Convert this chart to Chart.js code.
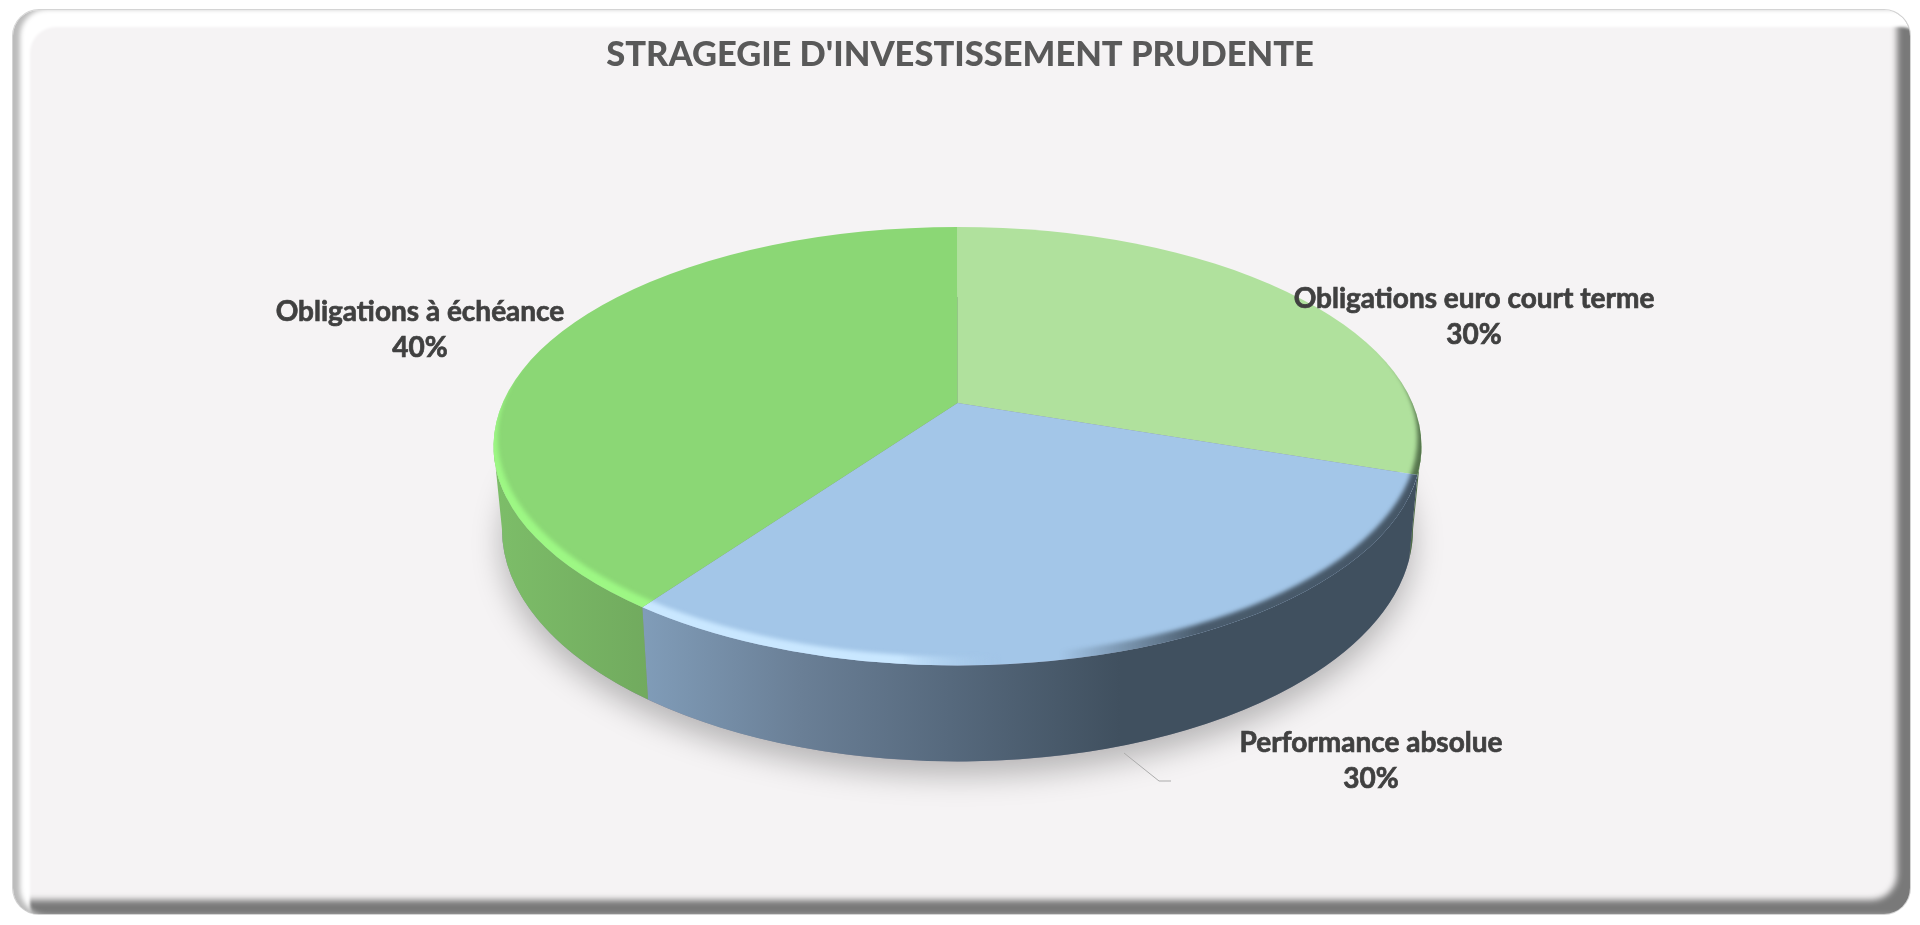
<!DOCTYPE html>
<html>
<head>
<meta charset="utf-8">
<title>Stragegie</title>
<script src="https://cdn.jsdelivr.net/npm/chart.js@4"></script>
<style>
  html, body { margin: 0; padding: 0; background: #fff; overflow: hidden; }
  #cadre {
    position: absolute; left: 13px; top: 10px; width: 1897px; height: 904px;
    border-radius: 26px; background: #f5f3f4;
    box-shadow: 0 0 0 1px #d4d4d4,
      inset 8px 0 5px -1px #bcbcbc,
      inset 17px 17px 3px #fff,
      inset -13px -14px 6px #797979;
  }
  canvas { position: absolute; left: 0; top: 0; }
</style>
</head>
<body>
<div id="cadre"></div>
<canvas id="grafico" width="1920" height="925"></canvas>
<script>
const titre = "STRAGEGIE D'INVESTISSEMENT PRUDENTE";
const categories = ["Obligations euro court terme", "Performance absolue", "Obligations à échéance"];
const valeurs = [30, 30, 40];
const couleurs = ["#b0e19d", "#a3c6e8", "#8bd775"];

// look of the 3D disc, the pie is drawn as a tilted disc seen in perspective
const disque = { dx: -2.5, sx: 1.2513, sy: 0.5914, apex: -0.197, vue: -0.185, bas: { dy: 83, sx: 1.2285, sy: 0.6263 } };
const parois = [
  [[1300, "#4f6d47"], [1430, "#4f6d47"]],
  [[645, "#809cb8"], [800, "#6a7f96"], [950, "#56697d"], [1120, "#40505f"], [1420, "#40505f"]],
  [[490, "#7dbe69"], [650, "#71aa5e"]]
];
const reflets = ["rgba(176,225,157,0)", "#c9e7ff", "#9df784"];
const positionsTexte = [[1474, 299], [1371, 743], [420, 312]];

function fondu(ctx, x0, x1, stops) {
  const g = ctx.createLinearGradient(x0, 0, x1, 0);
  stops.forEach(s => g.addColorStop((s[0] - x0) / (x1 - x0), s[1]));
  return g;
}

// angle on the circle -> angle on the ellipse, the centre of the circle lands near the apex
function projeter(a) {
  const u = Math.cos(a), v = Math.sin(a), k = disque.vue;
  const d = 1 + k * v;
  return Math.atan2((v + k) / d, u * Math.sqrt(1 - k * k) / d);
}

class Arc3D extends Chart.ArcElement {
  static id = "arc3d";
  draw(ctx) {
    const i = this.$context.dataIndex;
    const r = this.outerRadius, cx = this.x + disque.dx, cy = this.y;
    const rx = r * disque.sx, ry = r * disque.sy;
    const bx = r * disque.bas.sx, by = r * disque.bas.sy, bcy = cy + disque.bas.dy;
    let p1 = projeter(this.startAngle), p2 = projeter(this.endAngle);
    while (p2 <= p1) p2 += Math.PI * 2;

    // front wall
    const w1 = Math.max(p1, 0), w2 = Math.min(p2, Math.PI);
    ctx.save();
    if (w2 > w1) {
      ctx.beginPath();
      ctx.ellipse(cx, cy, rx, ry, 0, w1, w2);
      ctx.ellipse(cx, bcy, bx, by, 0, w2, w1, true);
      ctx.closePath();
      const st = parois[i];
      ctx.fillStyle = fondu(ctx, st[0][0], st[st.length - 1][0], st);
      ctx.fill();
    }

    // top of the slice
    const apexY = cy + disque.apex * ry;
    ctx.beginPath();
    ctx.moveTo(cx, apexY);
    ctx.ellipse(cx, cy, rx, ry, 0, p1, p2);
    ctx.closePath();
    ctx.fillStyle = this.options.backgroundColor;
    ctx.fill();

    // bevel, a crescent along the front rim, bright on the left and dark on the right
    ctx.clip();
    const sombre = i === 1 ? "64,80,95" : "79,109,71";
    ctx.fillStyle = fondu(ctx, 480, 1430, [
      [480, reflets[i]], [900, reflets[i]], [1000, "rgba(163,198,232,0)"],
      [1060, "rgba(" + sombre + ",0)"], [1200, "rgba(" + sombre + ",0.9)"], [1430, "rgba(" + sombre + ",0.95)"]
    ]);
    ctx.filter = "blur(2px)";
    ctx.beginPath();
    ctx.ellipse(cx, cy, rx + 6, ry + 6, 0, 0, Math.PI * 2);
    ctx.ellipse(cx, cy - 9, rx - 4, ry, 0, 0, Math.PI * 2);
    ctx.fill("evenodd");
    ctx.restore();
  }
}

class Pie3D extends Chart.PieController {
  static id = "pie3d";
  static defaults = { dataElementType: "arc3d" };
}

Chart.register(Arc3D, Pie3D);

const ombre = {
  id: "ombre",
  beforeDatasetsDraw(chart) {
    const a = chart.getDatasetMeta(0).data[0];
    const c = chart.ctx, r = a.outerRadius;
    c.save();
    c.shadowColor = "rgba(0,0,0,0.26)";
    c.shadowBlur = 30;
    c.shadowOffsetY = 14;
    c.fillStyle = "#889";
    c.beginPath();
    c.ellipse(a.x + disque.dx, a.y + disque.bas.dy, r * disque.bas.sx, r * disque.bas.sy, 0, 0, Math.PI * 2);
    c.fill();
    c.restore();
  }
};

const etiquettes = {
  id: "etiquettes",
  afterDraw(chart) {
    const c = chart.ctx;
    c.save();
    c.strokeStyle = "#ababab";
    c.lineWidth = 1;
    c.beginPath();
    c.moveTo(1124, 753);
    c.lineTo(1159, 781);
    c.lineTo(1171, 781);
    c.stroke();
    c.fillStyle = "#404040";
    c.strokeStyle = "#404040";
    c.lineWidth = 0.7;
    c.font = "bold 28px Lato";
    c.textAlign = "center";
    c.textBaseline = "middle";
    categories.forEach((nom, i) => {
      const [x, y] = positionsTexte[i];
      [[nom, y], [valeurs[i] + "%", y + 36]].forEach(l => {
        c.fillText(l[0], x, l[1]);
        c.strokeText(l[0], x, l[1]);
      });
    });
    c.restore();
  }
};

new Chart(document.getElementById("grafico"), {
  type: "pie3d",
  data: {
    labels: categories,
    datasets: [{ data: valeurs, backgroundColor: couleurs, borderWidth: 0 }]
  },
  options: {
    responsive: false,
    animation: false,
    layout: { padding: { bottom: 108 } },
    plugins: {
      legend: { display: false },
      tooltip: { enabled: false },
      title: {
        display: true,
        text: titre,
        color: "#595959",
        font: { family: "Lato", size: 34.5, weight: "900" },
        padding: { top: 34, bottom: 0 }
      }
    }
  },
  plugins: [ombre, etiquettes]
});
</script>
</body>
</html>
